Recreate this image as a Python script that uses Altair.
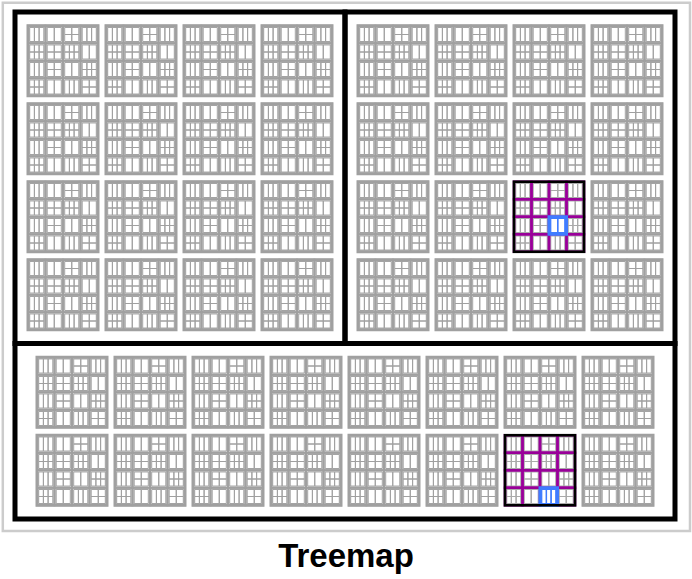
import altair as alt
import pandas as pd

# ---- hierarchy description ----
groups = ["left", "right", "bottom"]
group_cols = [4, 4, 8]          # blocks per row in each group
group_rows = [4, 4, 2]          # block rows in each group
block_cell_cols = 4
block_cell_rows = 4
# leaf split of each of the 16 cells of a block: (columns, rows)
leaf_cols = [3, 2, 2, 3, 3, 2, 3, 2, 3, 2, 2, 3, 3, 2, 3, 2]
leaf_rows = [1, 1, 2, 1, 2, 2, 2, 1, 1, 2, 1, 2, 2, 1, 1, 2]
# highlighted (hovered) nodes: group, block index, cell index
hl_group = ["right", "bottom"]
hl_block = [10, 14]
hl_cell = [10, 14]

# ---- layout constants (pixels of the plot area) ----
W, H = 692, 532
ROOT = (2.8, 2.8, 690.0, 531.0)
FRAME = (15.0, 12.0, 675.0, 519.0)
SPLIT_X = 345.0
SPLIT_Y = 343.5
BLOCK = 70.0
GAP = 8.0

GREY = "#a0a0a0"
LIGHT = "#cccccc"
PURPLE = "#990099"
BLUE = "#3f7cff"


def grid(box, ncol, nrow, size=None, gap=0.0):
    x0, y0, x1, y1 = box
    if size is None:
        cw = (x1 - x0 - gap * (ncol - 1)) / ncol
        ch = (y1 - y0 - gap * (nrow - 1)) / nrow
        sx, sy = x0, y0
    else:
        cw = ch = size
        sx = (x0 + x1) / 2 - (ncol * size + (ncol - 1) * gap) / 2
        sy = (y0 + y1) / 2 - (nrow * size + (nrow - 1) * gap) / 2
    out = []
    for r in range(nrow):
        for c in range(ncol):
            ax = sx + c * (cw + gap)
            ay = sy + r * (ch + gap)
            out.append((ax, ay, ax + cw, ay + ch))
    return out


def rec(b, **kw):
    d = {"x": b[0], "y": b[1], "x2": b[2], "y2": b[3]}
    d.update(kw)
    return d


group_boxes = {
    "left": (FRAME[0], FRAME[1], SPLIT_X, SPLIT_Y),
    "right": (SPLIT_X, FRAME[1], FRAME[2], SPLIT_Y),
    "bottom": (FRAME[0], SPLIT_Y, FRAME[2], FRAME[3]),
}

root_rows, group_rows_d, block_rows_d = [], [], []
cell_rows_d, leaf_rows_d = [], []
hl_block_rows, hl_cell_rows, hl_leaf_rows, blue_rows, blue_leaf_rows = [], [], [], [], []

root_rows.append(rec(ROOT))
for gi, g in enumerate(groups):
    gbox = group_boxes[g]
    group_rows_d.append(rec(gbox))
    blocks = grid(gbox, group_cols[gi], group_rows[gi], size=BLOCK, gap=GAP)
    for bi, bbox in enumerate(blocks):
        is_hl = any(g == hg and bi == hb for hg, hb in zip(hl_group, hl_block))
        blue_idx = [hc for hg, hb, hc in zip(hl_group, hl_block, hl_cell) if g == hg and bi == hb]
        block_rows_d.append(rec(bbox))
        if is_hl:
            hl_block_rows.append(rec(bbox))
        cells = grid(bbox, block_cell_cols, block_cell_rows)
        for ci, cbox in enumerate(cells):
            inner = (cbox[0] + 1.7, cbox[1] + 1.7, cbox[2] - 1.7, cbox[3] - 1.7)
            leaves = grid(inner, leaf_cols[ci], leaf_rows[ci])
            if is_hl:
                if ci in blue_idx:
                    blue_rows.append(rec(cbox))
                    for lb in leaves:
                        blue_leaf_rows.append(rec(lb))
                else:
                    hl_cell_rows.append(rec(cbox))
                    for lb in leaves:
                        hl_leaf_rows.append(rec(lb))
            else:
                cell_rows_d.append(rec(cbox))
                for lb in leaves:
                    leaf_rows_d.append(rec(lb))

xs = alt.Scale(domain=[0, W], nice=False, zero=False)
ys = alt.Scale(domain=[0, H], nice=False, zero=False, reverse=True)


def layer(rows, **mark):
    return alt.Chart(pd.DataFrame(rows)).mark_rect(**mark).encode(
        x=alt.X("x:Q", scale=xs, axis=None),
        x2="x2:Q",
        y=alt.Y("y:Q", scale=ys, axis=None),
        y2="y2:Q",
    )


chart = alt.layer(
    layer(root_rows, filled=False, stroke=LIGHT, strokeWidth=2.5),
    layer(block_rows_d, fill="white", stroke=GREY, strokeWidth=3),
    layer(cell_rows_d, filled=False, stroke=GREY, strokeWidth=2),
    layer(leaf_rows_d, filled=False, stroke=GREY, strokeWidth=1.0),
    layer(hl_leaf_rows, filled=False, stroke="#aaaaaa", strokeWidth=1.2),
    layer(hl_cell_rows, filled=False, stroke=PURPLE, strokeWidth=2.5),
    layer(blue_leaf_rows, filled=False, stroke=BLUE, strokeWidth=1.3),
    layer(blue_rows, filled=False, stroke=BLUE, strokeWidth=3),
    layer(hl_block_rows, filled=False, stroke="black", strokeWidth=2.5),
    layer(group_rows_d, filled=False, stroke="black", strokeWidth=5),
).properties(
    width=W,
    height=H,
    padding={"left": 0, "right": 0, "top": 0, "bottom": 47},
    autosize="none",
    title=alt.TitleParams(
        "Treemap",
        orient="bottom",
        anchor="middle",
        fontSize=33,
        font="Liberation Sans",
        fontWeight="bold",
        color="black",
        offset=9,
    ),
).configure_view(stroke=None)

chart.save("out.html", embed_options={"renderer": "svg", "actions": False})
